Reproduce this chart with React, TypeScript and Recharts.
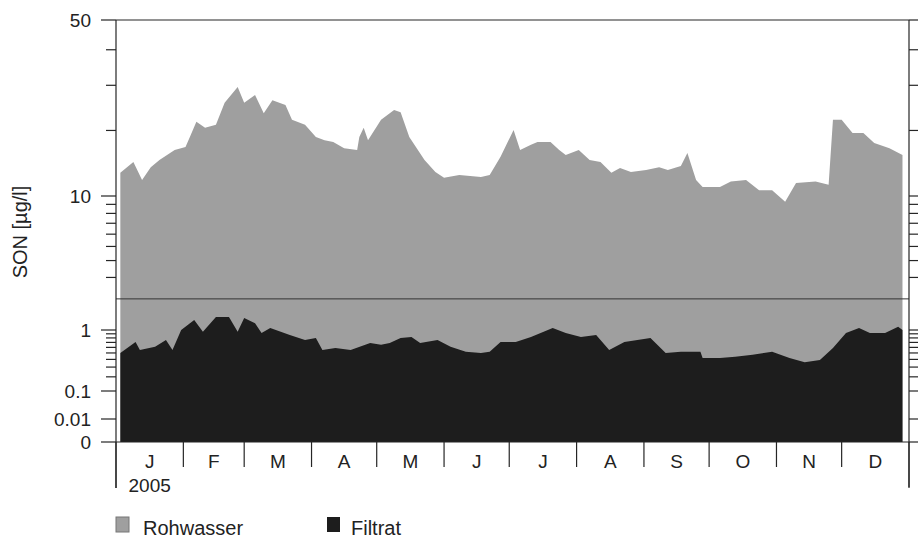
import { AreaChart, Area, XAxis, YAxis, ReferenceLine } from 'recharts';

const MONTH_STARTS = [0, 31, 59, 90, 120, 151, 181, 212, 243, 273, 304, 334, 365];
const MONTH_LABELS = ['J', 'F', 'M', 'A', 'M', 'J', 'J', 'A', 'S', 'O', 'N', 'D'];
const YEAR_LABEL = '2005';

// day of year / SON in µg/l
const ROH_DAYS = [2, 8, 12, 16, 20, 27, 32, 34, 37, 41, 46, 50, 56, 59, 64, 68, 72, 78, 81, 87, 92, 96, 100, 105, 111, 112, 114, 116, 122, 128, 131, 135, 142, 147, 151, 158, 168, 172, 177, 183, 186, 191, 194, 200, 204, 207, 213, 218, 223, 228, 232, 237, 244, 250, 254, 260, 263, 267, 270, 278, 283, 290, 296, 302, 308, 313, 322, 328, 330, 334, 339, 344, 349, 356, 362];
const ROH_VALUES = [13.0, 14.6, 12.0, 13.8, 14.9, 16.5, 17.0, 18.8, 21.7, 20.5, 21.1, 25.8, 29.6, 25.8, 27.6, 23.5, 26.4, 25.3, 22.1, 21.1, 18.8, 18.2, 17.9, 16.8, 16.5, 18.8, 20.5, 18.2, 22.1, 24.2, 23.7, 18.8, 14.9, 13.1, 12.3, 12.7, 12.4, 12.7, 15.4, 20.1, 16.5, 17.4, 17.9, 17.9, 16.5, 15.7, 16.5, 14.9, 14.6, 13.0, 13.7, 13.1, 13.4, 13.8, 13.4, 14.0, 16.0, 12.0, 11.1, 11.1, 11.8, 12.0, 10.7, 10.7, 9.3, 11.6, 11.8, 11.4, 22.1, 22.1, 19.5, 19.5, 17.7, 16.8, 15.7];

const FIL_DAYS = [2, 9, 11, 18, 23, 26, 30, 36, 40, 46, 52, 56, 59, 64, 67, 71, 80, 87, 92, 95, 101, 108, 117, 122, 126, 131, 136, 140, 148, 154, 161, 168, 172, 177, 184, 191, 201, 207, 214, 221, 227, 234, 246, 253, 260, 269, 270, 278, 285, 293, 302, 310, 317, 324, 330, 336, 342, 347, 354, 360, 362];
const FIL_VALUES = [0.50, 0.71, 0.55, 0.61, 0.75, 0.55, 1.0, 1.27, 0.95, 1.36, 1.36, 0.95, 1.33, 1.18, 0.92, 1.05, 0.87, 0.75, 0.80, 0.55, 0.59, 0.55, 0.69, 0.65, 0.69, 0.80, 0.82, 0.69, 0.75, 0.61, 0.52, 0.50, 0.52, 0.71, 0.71, 0.82, 1.05, 0.92, 0.82, 0.87, 0.55, 0.71, 0.80, 0.50, 0.52, 0.52, 0.42, 0.42, 0.44, 0.47, 0.52, 0.42, 0.36, 0.39, 0.59, 0.92, 1.05, 0.92, 0.92, 1.08, 1.0];

const MAJOR_TICKS = [0, 0.01, 0.1, 1, 10, 50];
const MINOR_TICKS = [0.2, 0.3, 0.4, 0.5, 0.6, 0.7, 0.8, 0.9, 3, 4, 5, 6, 7, 8, 9, 20, 30, 40];
const AXIS_BREAK = 2;

// the value axis is broken: piecewise linear in v^0.3 between these anchors
const EXPONENT = 0.3;
const ANCHORS: [number, number][] = [[0, 0], [0.01, 23], [0.1, 51], [1, 112], [10, 246], [50, 422]];

function toAxis(v: number) {
  const u = Math.pow(Math.max(v, 0), EXPONENT);
  for (let i = 0; i < ANCHORS.length - 1; i++) {
    const u0 = Math.pow(ANCHORS[i][0], EXPONENT);
    const u1 = Math.pow(ANCHORS[i + 1][0], EXPONENT);
    if (u <= u1 || i === ANCHORS.length - 2) {
      return ANCHORS[i][1] + ((u - u0) / (u1 - u0)) * (ANCHORS[i + 1][1] - ANCHORS[i][1]);
    }
  }
  return 0;
}

const ROH_DATA = ROH_DAYS.map((day, i) => ({ day, pos: toAxis(ROH_VALUES[i]) }));
const FIL_DATA = FIL_DAYS.map((day, i) => ({ day, pos: toAxis(FIL_VALUES[i]) }));

const Y_TICKS = [
  ...MAJOR_TICKS.map((v) => ({ v, major: true, pos: toAxis(v) })),
  ...MINOR_TICKS.map((v) => ({ v, major: false, pos: toAxis(v) })),
].sort((a, b) => a.pos - b.pos);

const MONTH_MIDS = MONTH_LABELS.map((_, i) => (MONTH_STARTS[i] + MONTH_STARTS[i + 1]) / 2);

const FONT = '"Liberation Sans", Arial, Helvetica, sans-serif';
const INK = '#262626';
const GREY = '#9f9f9f';
const BLACK = '#1d1d1d';

function findTick(value: number) {
  return Y_TICKS.reduce((best, t) => (Math.abs(t.pos - value) < Math.abs(best.pos - value) ? t : best), Y_TICKS[0]);
}

function LeftTick({ x, y, payload }: any) {
  const t = findTick(payload.value);
  return (
    <g>
      <line x1={x - (t.major ? 15 : 10)} x2={x} y1={y} y2={y} stroke={INK} strokeWidth={1.2} />
      {t.major && (
        <text x={x - 25} y={y} dy="0.36em" textAnchor="end" fontFamily={FONT} fontSize={19} fill="#222">
          {String(t.v)}
        </text>
      )}
    </g>
  );
}

function RightTick({ x, y, payload }: any) {
  const t = findTick(payload.value);
  return <line x1={x} x2={x + (t.major ? 12 : 9)} y1={y} y2={y} stroke={INK} strokeWidth={1.2} />;
}

function MonthTick({ x, y, payload }: any) {
  const v = payload.value;
  const b = MONTH_STARTS.indexOf(v);
  if (b >= 0) {
    const long = b === 0 || b === MONTH_STARTS.length - 1;
    return <line x1={x} x2={x} y1={y} y2={y + (long ? 46 : 25)} stroke={INK} strokeWidth={1.2} />;
  }
  const m = MONTH_MIDS.indexOf(v);
  return (
    <g>
      <text x={x} y={y + 26} textAnchor="middle" fontFamily={FONT} fontSize={19} fill="#222">
        {MONTH_LABELS[m]}
      </text>
      {m === 0 && (
        <text x={x} y={y + 50} textAnchor="middle" fontFamily={FONT} fontSize={19} fill="#222">
          {YEAR_LABEL}
        </text>
      )}
    </g>
  );
}

function TopTick({ x, y }: any) {
  return <line x1={x} x2={x} y1={y} y2={y - 10} stroke={INK} strokeWidth={1.2} />;
}

export default function App() {
  return (
    <div style={{ position: 'absolute', left: 0, top: 0, width: 918, height: 538, background: '#fff' }}>
      <AreaChart width={918} height={538} margin={{ top: 0, right: 0, bottom: 0, left: 0 }}>
        <XAxis
          xAxisId="b"
          dataKey="day"
          type="number"
          domain={[0, 365]}
          allowDataOverflow
          ticks={[...MONTH_STARTS, ...MONTH_MIDS].sort((a, b) => a - b)}
          interval={0}
          tick={<MonthTick />}
          tickLine={false}
          tickSize={0}
          tickMargin={0}
          height={96}
          axisLine={{ stroke: INK, strokeWidth: 1.2 }}
        />
        <XAxis
          xAxisId="t"
          orientation="top"
          type="number"
          domain={[0, 365]}
          allowDataOverflow
          ticks={MONTH_STARTS}
          interval={0}
          tick={<TopTick />}
          tickLine={false}
          tickSize={0}
          tickMargin={0}
          height={20}
          axisLine={{ stroke: INK, strokeWidth: 1.2 }}
        />
        <YAxis
          yAxisId="l"
          type="number"
          domain={[0, toAxis(50)]}
          allowDataOverflow
          ticks={Y_TICKS.map((t) => t.pos)}
          interval={0}
          tick={<LeftTick />}
          tickLine={false}
          tickSize={0}
          tickMargin={0}
          width={116}
          axisLine={{ stroke: INK, strokeWidth: 1.2 }}
        />
        <YAxis
          yAxisId="r"
          orientation="right"
          type="number"
          domain={[0, toAxis(50)]}
          allowDataOverflow
          ticks={Y_TICKS.map((t) => t.pos)}
          interval={0}
          tick={<RightTick />}
          tickLine={false}
          tickSize={0}
          tickMargin={0}
          width={9}
          axisLine={{ stroke: INK, strokeWidth: 1.2 }}
        />
        <Area
          data={ROH_DATA}
          xAxisId="b"
          yAxisId="l"
          dataKey="pos"
          type="linear"
          fill={GREY}
          fillOpacity={1}
          stroke="none"
          isAnimationActive={false}
        />
        <Area
          data={FIL_DATA}
          xAxisId="b"
          yAxisId="l"
          dataKey="pos"
          type="linear"
          fill={BLACK}
          fillOpacity={1}
          stroke="none"
          isAnimationActive={false}
        />
        <ReferenceLine xAxisId="b" yAxisId="l" y={toAxis(AXIS_BREAK)} stroke="#333" strokeWidth={1} />
      </AreaChart>
      <svg width={918} height={538} style={{ position: 'absolute', left: 0, top: 0, pointerEvents: 'none' }}>
        <line x1={116} x2={116} y1={442} y2={488} stroke={INK} strokeWidth={1.2} />
        <line x1={909} x2={909} y1={442} y2={487} stroke={INK} strokeWidth={1.2} />
        <text transform="translate(27,232) rotate(-90)" textAnchor="middle" fontFamily={FONT} fontSize={20} fill="#222">
          SON [µg/l]
        </text>
        <rect x={116} y={517} width={13} height={15} fill={GREY} stroke="#777" />
        <text x={143} y={535} fontFamily={FONT} fontSize={20} fill="#222">Rohwasser</text>
        <rect x={327} y={517} width={13} height={15} fill={BLACK} />
        <text x={351} y={535} fontFamily={FONT} fontSize={20} fill="#222">Filtrat</text>
      </svg>
    </div>
  );
}
